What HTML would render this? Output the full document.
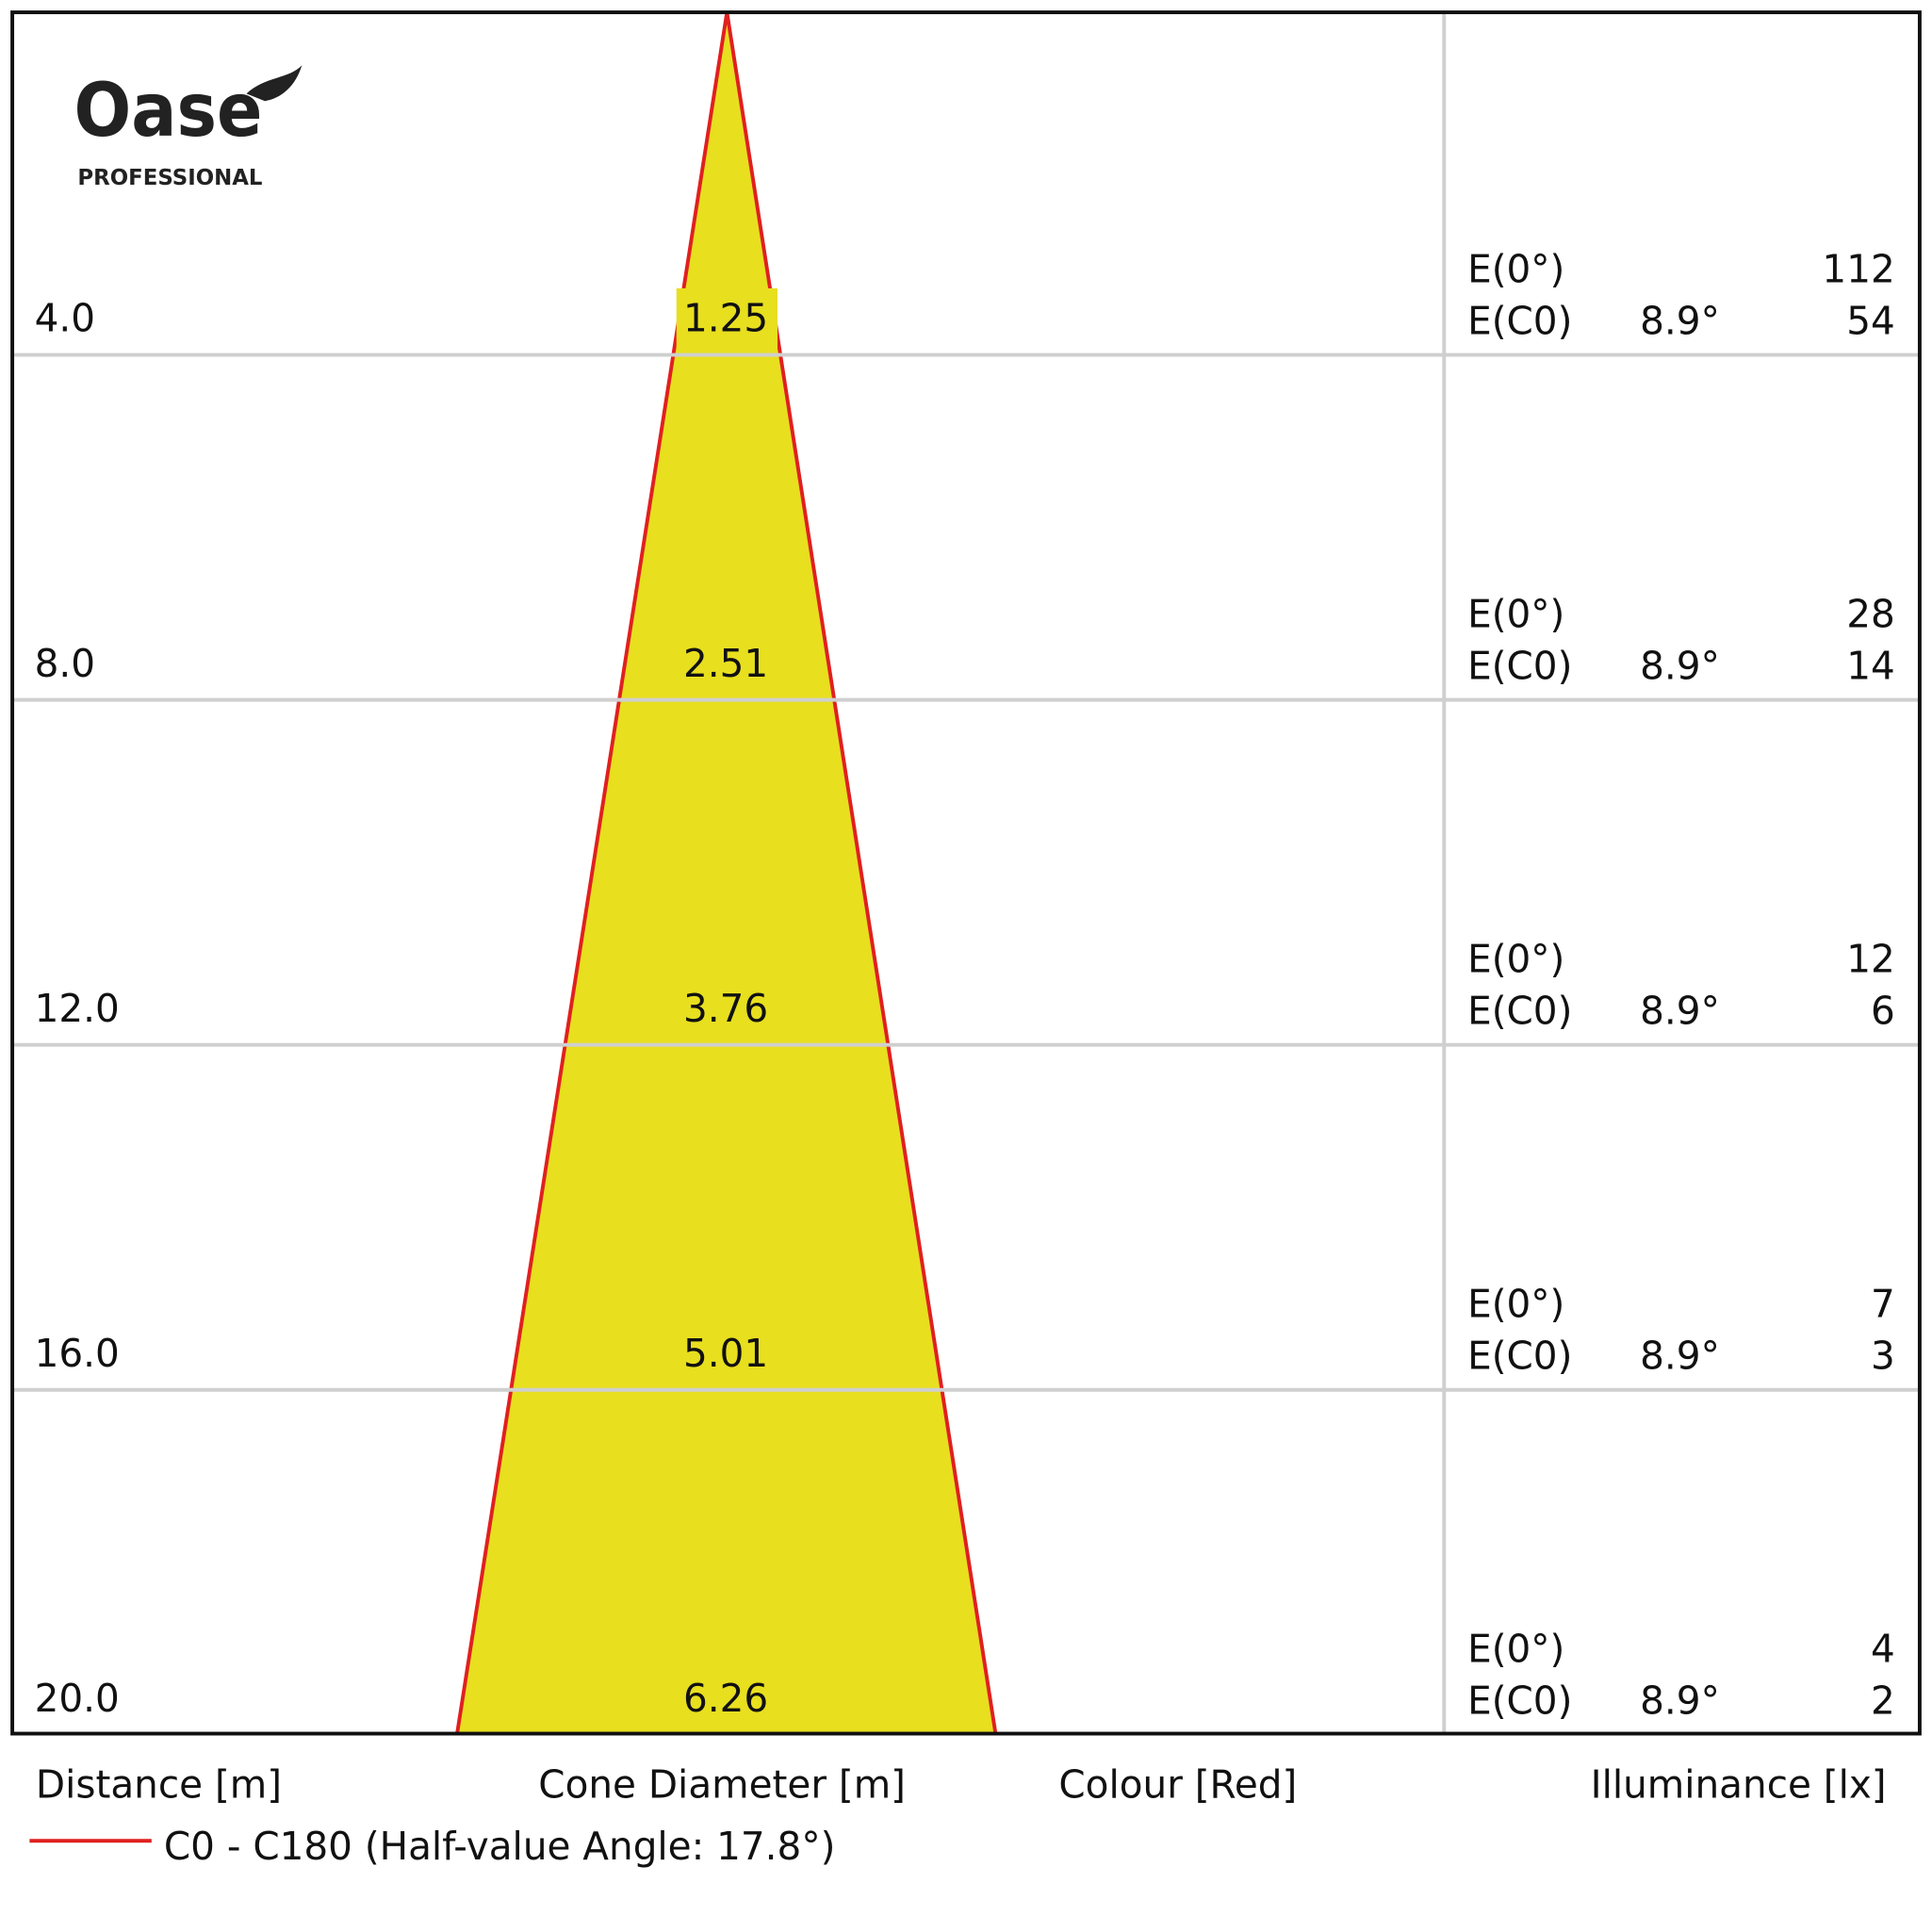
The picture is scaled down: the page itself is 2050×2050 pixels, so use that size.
<!DOCTYPE html>
<html><head><meta charset="utf-8"><style>html,body{margin:0;padding:0;background:#fff}svg{display:block}</style></head>
<body>
<svg width="2050" height="2050" viewBox="0 0 1568 1568" xmlns="http://www.w3.org/2000/svg" font-family="'DejaVu Sans','Liberation Sans',sans-serif">
<rect width="1568" height="1568" fill="#fff"/>
<polygon points="590,10 371,1407 808,1407" fill="#e8df1f"/>
<line x1="590" y1="10" x2="371" y2="1407" stroke="#e02020" stroke-width="3"/>
<line x1="590" y1="10" x2="808" y2="1407" stroke="#e02020" stroke-width="3"/>
<rect x="549" y="234" width="82" height="54" fill="#e8df1f"/>
<g stroke="#cfcfcf" stroke-width="3">
<line x1="10" y1="288" x2="1558" y2="288"/>
<line x1="10" y1="568" x2="1558" y2="568"/>
<line x1="10" y1="848" x2="1558" y2="848"/>
<line x1="10" y1="1128" x2="1558" y2="1128"/>
<line x1="1172" y1="10" x2="1172" y2="1407"/>
</g>
<rect x="10" y="10" width="1548" height="1397" fill="none" stroke="#111" stroke-width="3"/>
<text x="60" y="110" font-size="60" font-weight="bold" fill="#222" font-family="'DejaVu Sans',sans-serif" textLength="153" lengthAdjust="spacingAndGlyphs">Oase</text>
<path d="M200,76 C215,62 235,64 245,53 C240,70 228,80 215,82 Z" fill="#222"/>
<text x="63" y="150" font-size="18" font-weight="bold" fill="#222" font-family="'DejaVu Sans',sans-serif" textLength="150" lengthAdjust="spacingAndGlyphs">PROFESSIONAL</text>
<g font-size="31" fill="#111">
<text x="28" y="269">4.0</text><text x="28" y="549">8.0</text><text x="28" y="829">12.0</text><text x="28" y="1109">16.0</text><text x="28" y="1389">20.0</text>
<g text-anchor="middle"><text x="589" y="269">1.25</text><text x="589" y="549">2.51</text><text x="589" y="829">3.76</text><text x="589" y="1109">5.01</text><text x="589" y="1389">6.26</text></g>
<g>
<text x="1191" y="229">E(0°)</text><text x="1191" y="271">E(C0)</text><text x="1331" y="271">8.9°</text>
<text x="1191" y="509">E(0°)</text><text x="1191" y="551">E(C0)</text><text x="1331" y="551">8.9°</text>
<text x="1191" y="789">E(0°)</text><text x="1191" y="831">E(C0)</text><text x="1331" y="831">8.9°</text>
<text x="1191" y="1069">E(0°)</text><text x="1191" y="1111">E(C0)</text><text x="1331" y="1111">8.9°</text>
<text x="1191" y="1349">E(0°)</text><text x="1191" y="1391">E(C0)</text><text x="1331" y="1391">8.9°</text>
</g>
<g text-anchor="end">
<text x="1538" y="229">112</text><text x="1538" y="271">54</text>
<text x="1538" y="509">28</text><text x="1538" y="551">14</text>
<text x="1538" y="789">12</text><text x="1538" y="831">6</text>
<text x="1538" y="1069">7</text><text x="1538" y="1111">3</text>
<text x="1538" y="1349">4</text><text x="1538" y="1391">2</text>
</g>
<text x="29" y="1459">Distance [m]</text>
<text x="586" y="1459" text-anchor="middle">Cone Diameter [m]</text>
<text x="956" y="1459" text-anchor="middle">Colour [Red]</text>
<text x="1531" y="1459" text-anchor="end">Illuminance [lx]</text>
<text x="133" y="1509">C0 - C180 (Half-value Angle: 17.8°)</text>
</g>
<line x1="24" y1="1494" x2="123" y2="1494" stroke="#e02020" stroke-width="3"/>
</svg>
</body></html>
